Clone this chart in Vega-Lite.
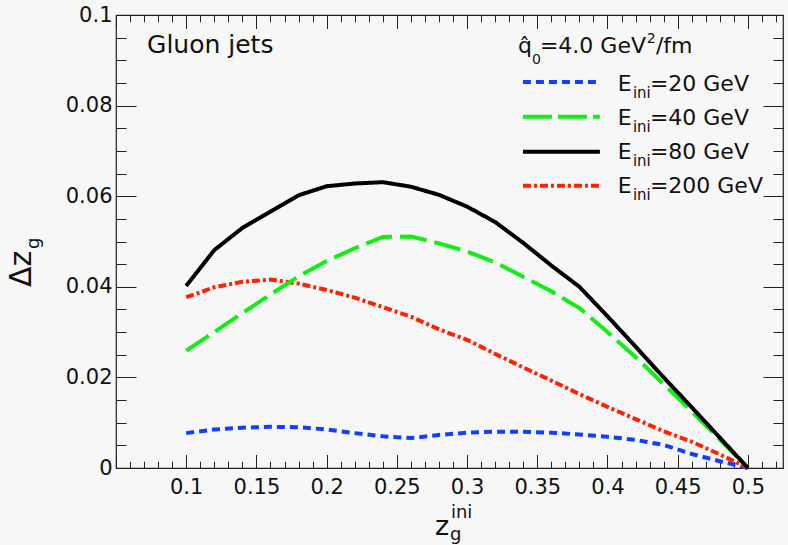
{
  "$schema": "https://vega.github.io/schema/vega-lite/v6.json",
  "width": 667,
  "height": 453,
  "autosize": {"type": "none"},
  "padding": {"left": 116, "top": 15, "right": 5, "bottom": 77},
  "background": "#f7f7f7",
  "config": {"view": {"stroke": "#222", "strokeWidth": 1.2, "fill": "#f7f7f7"}, "font": "DejaVu Sans"},
  "resolve": {"axis": {"x": "independent", "y": "independent"}},
  "data": {"values": [{}]},
  "layer": [
    {
      "data": {"values": [
        {"s": "20", "x": 0.10, "y": 0.0077}, {"s": "20", "x": 0.12, "y": 0.0085}, {"s": "20", "x": 0.14, "y": 0.0089}, {"s": "20", "x": 0.16, "y": 0.0091}, {"s": "20", "x": 0.18, "y": 0.0090}, {"s": "20", "x": 0.20, "y": 0.0085}, {"s": "20", "x": 0.22, "y": 0.0077}, {"s": "20", "x": 0.24, "y": 0.0070}, {"s": "20", "x": 0.26, "y": 0.0066}, {"s": "20", "x": 0.28, "y": 0.0073}, {"s": "20", "x": 0.30, "y": 0.0078}, {"s": "20", "x": 0.32, "y": 0.0080}, {"s": "20", "x": 0.34, "y": 0.0080}, {"s": "20", "x": 0.36, "y": 0.0078}, {"s": "20", "x": 0.38, "y": 0.0074}, {"s": "20", "x": 0.40, "y": 0.0069}, {"s": "20", "x": 0.42, "y": 0.0062}, {"s": "20", "x": 0.44, "y": 0.0051}, {"s": "20", "x": 0.46, "y": 0.0031}, {"s": "20", "x": 0.48, "y": 0.0015}, {"s": "20", "x": 0.50, "y": 0.0},
        {"s": "200", "x": 0.10, "y": 0.0377}, {"s": "200", "x": 0.12, "y": 0.0399}, {"s": "200", "x": 0.14, "y": 0.0411}, {"s": "200", "x": 0.16, "y": 0.0416}, {"s": "200", "x": 0.18, "y": 0.0407}, {"s": "200", "x": 0.20, "y": 0.0393}, {"s": "200", "x": 0.22, "y": 0.0376}, {"s": "200", "x": 0.24, "y": 0.0355}, {"s": "200", "x": 0.26, "y": 0.0334}, {"s": "200", "x": 0.28, "y": 0.0306}, {"s": "200", "x": 0.30, "y": 0.0283}, {"s": "200", "x": 0.32, "y": 0.0252}, {"s": "200", "x": 0.34, "y": 0.0222}, {"s": "200", "x": 0.36, "y": 0.0193}, {"s": "200", "x": 0.38, "y": 0.0163}, {"s": "200", "x": 0.40, "y": 0.0135}, {"s": "200", "x": 0.42, "y": 0.0108}, {"s": "200", "x": 0.44, "y": 0.0081}, {"s": "200", "x": 0.46, "y": 0.0058}, {"s": "200", "x": 0.48, "y": 0.0030}, {"s": "200", "x": 0.50, "y": 0.0},
        {"s": "40", "x": 0.10, "y": 0.0259}, {"s": "40", "x": 0.12, "y": 0.0300}, {"s": "40", "x": 0.14, "y": 0.0342}, {"s": "40", "x": 0.16, "y": 0.0383}, {"s": "40", "x": 0.18, "y": 0.0423}, {"s": "40", "x": 0.20, "y": 0.0457}, {"s": "40", "x": 0.22, "y": 0.0485}, {"s": "40", "x": 0.24, "y": 0.0510}, {"s": "40", "x": 0.26, "y": 0.0511}, {"s": "40", "x": 0.28, "y": 0.0496}, {"s": "40", "x": 0.30, "y": 0.0478}, {"s": "40", "x": 0.32, "y": 0.0454}, {"s": "40", "x": 0.34, "y": 0.0422}, {"s": "40", "x": 0.36, "y": 0.0390}, {"s": "40", "x": 0.38, "y": 0.0353}, {"s": "40", "x": 0.40, "y": 0.0300}, {"s": "40", "x": 0.42, "y": 0.0245}, {"s": "40", "x": 0.44, "y": 0.0185}, {"s": "40", "x": 0.46, "y": 0.0125}, {"s": "40", "x": 0.48, "y": 0.0063}, {"s": "40", "x": 0.50, "y": 0.0},
        {"s": "80", "x": 0.10, "y": 0.0402}, {"s": "80", "x": 0.12, "y": 0.0481}, {"s": "80", "x": 0.14, "y": 0.0530}, {"s": "80", "x": 0.16, "y": 0.0566}, {"s": "80", "x": 0.18, "y": 0.0602}, {"s": "80", "x": 0.20, "y": 0.0622}, {"s": "80", "x": 0.22, "y": 0.0628}, {"s": "80", "x": 0.24, "y": 0.0631}, {"s": "80", "x": 0.26, "y": 0.0621}, {"s": "80", "x": 0.28, "y": 0.0603}, {"s": "80", "x": 0.30, "y": 0.0577}, {"s": "80", "x": 0.32, "y": 0.0543}, {"s": "80", "x": 0.34, "y": 0.0497}, {"s": "80", "x": 0.36, "y": 0.0447}, {"s": "80", "x": 0.38, "y": 0.0400}, {"s": "80", "x": 0.40, "y": 0.0335}, {"s": "80", "x": 0.42, "y": 0.0268}, {"s": "80", "x": 0.44, "y": 0.0200}, {"s": "80", "x": 0.46, "y": 0.0134}, {"s": "80", "x": 0.48, "y": 0.0067}, {"s": "80", "x": 0.50, "y": 0.0}
      ]},
      "mark": {"type": "line", "strokeWidth": 4},
      "encoding": {
        "x": {"field": "x", "type": "quantitative", "scale": {"domain": [0.05, 0.525], "nice": false, "zero": false},
          "axis": {"orient": "bottom", "values": [0.05,0.06,0.07,0.08,0.09,0.1,0.11,0.12,0.13,0.14,0.15,0.16,0.17,0.18,0.19,0.2,0.21,0.22,0.23,0.24,0.25,0.26,0.27,0.28,0.29,0.3,0.31,0.32,0.33,0.34,0.35,0.36,0.37,0.38,0.39,0.4,0.41,0.42,0.43,0.44,0.45,0.46,0.47,0.48,0.49,0.5,0.51,0.52],
            "format": ".2~f", "labelExpr": "abs(datum.value*20-round(datum.value*20))<0.001 && datum.value>0.07 ? datum.label : ''",
            "tickSize": {"condition": {"test": "abs(datum.value*20-round(datum.value*20))<0.001", "value": -13.5}, "value": -6.8},
            "labelPadding": 22, "labelFont": "DejaVu Sans", "labelFontSize": 21, "labelColor": "#111", "tickColor": "#222", "tickWidth": 1,
            "domain": false, "grid": false, "title": null, "labelFlush": false, "labelOverlap": false, "labelBound": false}},
        "y": {"field": "y", "type": "quantitative", "scale": {"domain": [0, 0.1], "nice": false, "zero": false},
          "axis": {"orient": "left", "values": [0,0.005,0.01,0.015,0.02,0.025,0.03,0.035,0.04,0.045,0.05,0.055,0.06,0.065,0.07,0.075,0.08,0.085,0.09,0.095,0.1],
            "format": ".2~f", "labelExpr": "abs(datum.value*50-round(datum.value*50))<0.001 ? datum.label : ''",
            "tickSize": {"condition": {"test": "abs(datum.value*50-round(datum.value*50))<0.001", "value": -20}, "value": -10},
            "labelPadding": 24, "labelFont": "DejaVu Sans", "labelFontSize": 21, "labelColor": "#111", "tickColor": "#222", "tickWidth": 1,
            "domain": false, "grid": false, "title": null, "labelFlush": false, "labelOverlap": false, "labelBound": false}},
        "color": {"field": "s", "type": "nominal", "scale": {"domain": ["20", "200", "40", "80"], "range": ["#1040ff", "#ff2200", "#11ee11", "#000000"]}, "legend": null},
        "strokeDash": {"field": "s", "type": "nominal", "scale": {"domain": ["20", "200", "40", "80"], "range": [[8, 5], [8, 3, 3, 3], [27, 8], [1, 0]]}, "legend": null}
      }
    },
    {
      "mark": {"type": "rule", "strokeWidth": 4, "color": "#1040ff", "strokeDash": [8, 5]},
      "encoding": {
        "x": {"datum": 0.3398, "type": "quantitative",
          "axis": {"orient": "top", "values": [0.05,0.06,0.07,0.08,0.09,0.1,0.11,0.12,0.13,0.14,0.15,0.16,0.17,0.18,0.19,0.2,0.21,0.22,0.23,0.24,0.25,0.26,0.27,0.28,0.29,0.3,0.31,0.32,0.33,0.34,0.35,0.36,0.37,0.38,0.39,0.4,0.41,0.42,0.43,0.44,0.45,0.46,0.47,0.48,0.49,0.5,0.51,0.52],
            "labels": false, "tickSize": {"condition": {"test": "abs(datum.value*20-round(datum.value*20))<0.001", "value": -13.5}, "value": -6.8},
            "tickColor": "#222", "tickWidth": 1, "domain": false, "grid": false, "title": null}},
        "x2": {"datum": 0.3946},
        "y": {"datum": 0.08521, "type": "quantitative",
          "axis": {"orient": "right", "values": [0,0.005,0.01,0.015,0.02,0.025,0.03,0.035,0.04,0.045,0.05,0.055,0.06,0.065,0.07,0.075,0.08,0.085,0.09,0.095,0.1],
            "labels": false, "tickSize": {"condition": {"test": "abs(datum.value*50-round(datum.value*50))<0.001", "value": -20}, "value": -10},
            "tickColor": "#222", "tickWidth": 1, "domain": false, "grid": false, "title": null}}
      }
    },
    {"mark": {"type": "rule", "strokeWidth": 4, "color": "#11ee11", "strokeDash": [29, 6]},
     "encoding": {"x": {"datum": 0.3398, "type": "quantitative", "axis": null}, "x2": {"datum": 0.3946}, "y": {"datum": 0.07755, "type": "quantitative", "axis": null}}},
    {"mark": {"type": "rule", "strokeWidth": 4, "color": "#000000"},
     "encoding": {"x": {"datum": 0.3398, "type": "quantitative", "axis": null}, "x2": {"datum": 0.3946}, "y": {"datum": 0.06982, "type": "quantitative", "axis": null}}},
    {"mark": {"type": "rule", "strokeWidth": 4, "color": "#ff2200", "strokeDash": [8, 3, 3, 3]},
     "encoding": {"x": {"datum": 0.3398, "type": "quantitative", "axis": null}, "x2": {"datum": 0.3946}, "y": {"datum": 0.06232, "type": "quantitative", "axis": null}}},

    {"mark": {"type": "text", "text": "E", "fontSize": 22, "align": "left", "baseline": "alphabetic", "color": "#111"},
     "encoding": {"x": {"datum": 0.4074, "type": "quantitative", "axis": null}, "y": {"datum": 0.08322, "type": "quantitative", "axis": null}}},
    {"mark": {"type": "text", "text": "ini", "fontSize": 15, "align": "left", "baseline": "alphabetic", "color": "#111"},
     "encoding": {"x": {"datum": 0.4181, "type": "quantitative", "axis": null}, "y": {"datum": 0.08168, "type": "quantitative", "axis": null}}},
    {"mark": {"type": "text", "text": "=20 GeV", "fontSize": 22, "align": "left", "baseline": "alphabetic", "color": "#111"},
     "encoding": {"x": {"datum": 0.4302, "type": "quantitative", "axis": null}, "y": {"datum": 0.08322, "type": "quantitative", "axis": null}}},

    {"mark": {"type": "text", "text": "E", "fontSize": 22, "align": "left", "baseline": "alphabetic", "color": "#111"},
     "encoding": {"x": {"datum": 0.4074, "type": "quantitative", "axis": null}, "y": {"datum": 0.07572, "type": "quantitative", "axis": null}}},
    {"mark": {"type": "text", "text": "ini", "fontSize": 15, "align": "left", "baseline": "alphabetic", "color": "#111"},
     "encoding": {"x": {"datum": 0.4181, "type": "quantitative", "axis": null}, "y": {"datum": 0.07417, "type": "quantitative", "axis": null}}},
    {"mark": {"type": "text", "text": "=40 GeV", "fontSize": 22, "align": "left", "baseline": "alphabetic", "color": "#111"},
     "encoding": {"x": {"datum": 0.4302, "type": "quantitative", "axis": null}, "y": {"datum": 0.07572, "type": "quantitative", "axis": null}}},

    {"mark": {"type": "text", "text": "E", "fontSize": 22, "align": "left", "baseline": "alphabetic", "color": "#111"},
     "encoding": {"x": {"datum": 0.4074, "type": "quantitative", "axis": null}, "y": {"datum": 0.06821, "type": "quantitative", "axis": null}}},
    {"mark": {"type": "text", "text": "ini", "fontSize": 15, "align": "left", "baseline": "alphabetic", "color": "#111"},
     "encoding": {"x": {"datum": 0.4181, "type": "quantitative", "axis": null}, "y": {"datum": 0.06667, "type": "quantitative", "axis": null}}},
    {"mark": {"type": "text", "text": "=80 GeV", "fontSize": 22, "align": "left", "baseline": "alphabetic", "color": "#111"},
     "encoding": {"x": {"datum": 0.4302, "type": "quantitative", "axis": null}, "y": {"datum": 0.06821, "type": "quantitative", "axis": null}}},

    {"mark": {"type": "text", "text": "E", "fontSize": 22, "align": "left", "baseline": "alphabetic", "color": "#111"},
     "encoding": {"x": {"datum": 0.4074, "type": "quantitative", "axis": null}, "y": {"datum": 0.06071, "type": "quantitative", "axis": null}}},
    {"mark": {"type": "text", "text": "ini", "fontSize": 15, "align": "left", "baseline": "alphabetic", "color": "#111"},
     "encoding": {"x": {"datum": 0.4181, "type": "quantitative", "axis": null}, "y": {"datum": 0.05916, "type": "quantitative", "axis": null}}},
    {"mark": {"type": "text", "text": "=200 GeV", "fontSize": 22, "align": "left", "baseline": "alphabetic", "color": "#111"},
     "encoding": {"x": {"datum": 0.4302, "type": "quantitative", "axis": null}, "y": {"datum": 0.06071, "type": "quantitative", "axis": null}}},

    {"mark": {"type": "text", "text": "q\u0302", "fontSize": 22, "align": "left", "baseline": "alphabetic", "color": "#111"},
     "encoding": {"x": {"datum": 0.3362, "type": "quantitative", "axis": null}, "y": {"datum": 0.0916, "type": "quantitative", "axis": null}}},
    {"mark": {"type": "text", "text": "0", "fontSize": 14, "align": "left", "baseline": "alphabetic", "color": "#111"},
     "encoding": {"x": {"datum": 0.3462, "type": "quantitative", "axis": null}, "y": {"datum": 0.0892, "type": "quantitative", "axis": null}}},
    {"mark": {"type": "text", "text": "=4.0 GeV", "fontSize": 22, "align": "left", "baseline": "alphabetic", "color": "#111"},
     "encoding": {"x": {"datum": 0.3519, "type": "quantitative", "axis": null}, "y": {"datum": 0.0916, "type": "quantitative", "axis": null}}},
    {"mark": {"type": "text", "text": "2", "fontSize": 14, "align": "left", "baseline": "alphabetic", "color": "#111"},
     "encoding": {"x": {"datum": 0.428, "type": "quantitative", "axis": null}, "y": {"datum": 0.0938, "type": "quantitative", "axis": null}}},
    {"mark": {"type": "text", "text": "/fm", "fontSize": 22, "align": "left", "baseline": "alphabetic", "color": "#111"},
     "encoding": {"x": {"datum": 0.4345, "type": "quantitative", "axis": null}, "y": {"datum": 0.0916, "type": "quantitative", "axis": null}}},

    {"mark": {"type": "text", "text": "Gluon jets", "fontSize": 25, "align": "left", "baseline": "alphabetic", "color": "#111"},
     "encoding": {"x": {"datum": 0.0721, "type": "quantitative", "axis": null}, "y": {"datum": 0.0916, "type": "quantitative", "axis": null}}},

    {"mark": {"type": "text", "text": "z", "fontSize": 27, "align": "left", "baseline": "alphabetic", "color": "#111"},
     "encoding": {"x": {"datum": 0.2771, "type": "quantitative", "axis": null}, "y": {"datum": -0.01479, "type": "quantitative", "axis": null}}},
    {"mark": {"type": "text", "text": "g", "fontSize": 18, "align": "left", "baseline": "alphabetic", "color": "#111"},
     "encoding": {"x": {"datum": 0.2878, "type": "quantitative", "axis": null}, "y": {"datum": -0.01589, "type": "quantitative", "axis": null}}},
    {"mark": {"type": "text", "text": "ini", "fontSize": 18, "align": "left", "baseline": "alphabetic", "color": "#111"},
     "encoding": {"x": {"datum": 0.2885, "type": "quantitative", "axis": null}, "y": {"datum": -0.01104, "type": "quantitative", "axis": null}}},

    {"mark": {"type": "text", "text": "\u0394z", "fontSize": 30, "angle": 270, "align": "left", "baseline": "alphabetic", "color": "#111"},
     "encoding": {"x": {"datum": -0.0105, "type": "quantitative", "axis": null}, "y": {"datum": 0.03996, "type": "quantitative", "axis": null}}},
    {"mark": {"type": "text", "text": "g", "fontSize": 18, "angle": 270, "align": "left", "baseline": "alphabetic", "color": "#111"},
     "encoding": {"x": {"datum": -0.0048, "type": "quantitative", "axis": null}, "y": {"datum": 0.04834, "type": "quantitative", "axis": null}}}
  ]
}
